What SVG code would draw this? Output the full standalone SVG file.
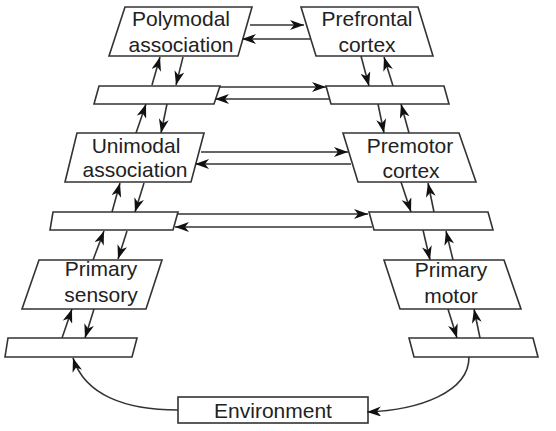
<svg xmlns="http://www.w3.org/2000/svg" width="556" height="431" viewBox="0 0 556 431">
<style>
.box{fill:#fff;stroke:#333;stroke-width:1.6;stroke-linejoin:miter}
.lbl{font-family:"Liberation Sans",Arial,sans-serif;font-size:21px;fill:#222;text-anchor:middle}
.con{fill:none;stroke:#333;stroke-width:1.6;marker-end:url(#ah)}
</style>
<defs>
<marker id="ah" viewBox="0 0 14 10" refX="14" refY="5" markerWidth="14" markerHeight="10" orient="auto" markerUnits="userSpaceOnUse">
<path d="M0,0 L14,5 L0,10 L4,5 z" fill="#111"/>
</marker>
</defs>
<rect width="556" height="431" fill="#fff"/>
<g id="polymodal"><polygon class="box" points="125,7 252,7 238,56 109,56"/><text class="lbl" x="181" y="26">Polymodal</text><text class="lbl" x="181" y="52">association</text></g>
<g id="prefrontal"><polygon class="box" points="301,7 418,7 433,56 316,56"/><text class="lbl" x="367" y="26">Prefrontal</text><text class="lbl" x="367" y="52">cortex</text></g>
<g id="bar1L"><polygon class="box" points="99,86 220,86 214,104 94,104"/></g>
<g id="bar1R"><polygon class="box" points="326,86 444,86 449,104 331,104"/></g>
<g id="unimodal"><polygon class="box" points="77,133 204,133 191,182 65,182"/><text class="lbl" x="136" y="153">Unimodal</text><text class="lbl" x="135" y="177">association</text></g>
<g id="premotor"><polygon class="box" points="343,133 459,133 476,182 358,182"/><text class="lbl" x="410" y="153">Premotor</text><text class="lbl" x="411" y="178">cortex</text></g>
<g id="bar2L"><polygon class="box" points="53,212 178,212 173,230 50,230"/></g>
<g id="bar2R"><polygon class="box" points="369,212 488,212 493,230 374,230"/></g>
<g id="primarySensory"><polygon class="box" points="39,260 162,260 146,309 22,309"/><text class="lbl" x="101" y="276">Primary</text><text class="lbl" x="101" y="302">sensory</text></g>
<g id="primaryMotor"><polygon class="box" points="384,260 504,260 521,309 400,309"/><text class="lbl" x="451" y="277">Primary</text><text class="lbl" x="451" y="303">motor</text></g>
<g id="bar3L"><polygon class="box" points="8,338 137,338 132,357 5,357"/></g>
<g id="bar3R"><polygon class="box" points="409,338 533,338 538,357 414,357"/></g>
<g id="environment"><rect class="box" x="178" y="397" width="190" height="26"/><text class="lbl" x="273" y="418">Environment</text></g>
<g id="connectors">
<path class="con" d="M250,25 L304,25"/>
<path class="con" d="M310,39 L242,39"/>
<path class="con" d="M219,87 L326,87"/>
<path class="con" d="M329,99 L215,99"/>
<path class="con" d="M201,152 L348,152"/>
<path class="con" d="M351,164 L195,164"/>
<path class="con" d="M177,214 L368,214"/>
<path class="con" d="M372,227 L175,227"/>
<path class="con" d="M152,85 L160,57"/>
<path class="con" d="M183,57 L176,85"/>
<path class="con" d="M136,133 L146,104"/>
<path class="con" d="M167,104 L161,133"/>
<path class="con" d="M112,212 L120,183"/>
<path class="con" d="M144,183 L135,212"/>
<path class="con" d="M93,260 L104,231"/>
<path class="con" d="M127,231 L118,259"/>
<path class="con" d="M62,338 L72,309"/>
<path class="con" d="M94,309 L85,338"/>
<path class="con" d="M361,56 L369,86"/>
<path class="con" d="M393,86 L384,57"/>
<path class="con" d="M378,104 L384,133"/>
<path class="con" d="M409,133 L401,104"/>
<path class="con" d="M401,182 L411,212"/>
<path class="con" d="M434,212 L428,183"/>
<path class="con" d="M423,230 L430,260"/>
<path class="con" d="M453,260 L446,231"/>
<path class="con" d="M448,309 L457,338"/>
<path class="con" d="M480,338 L474,309"/>
<path class="con" d="M178,410 C125,410 85,395 73,358"/>
<path class="con" d="M469,357 C469,392 420,410 367,412"/>
</g>
</svg>
